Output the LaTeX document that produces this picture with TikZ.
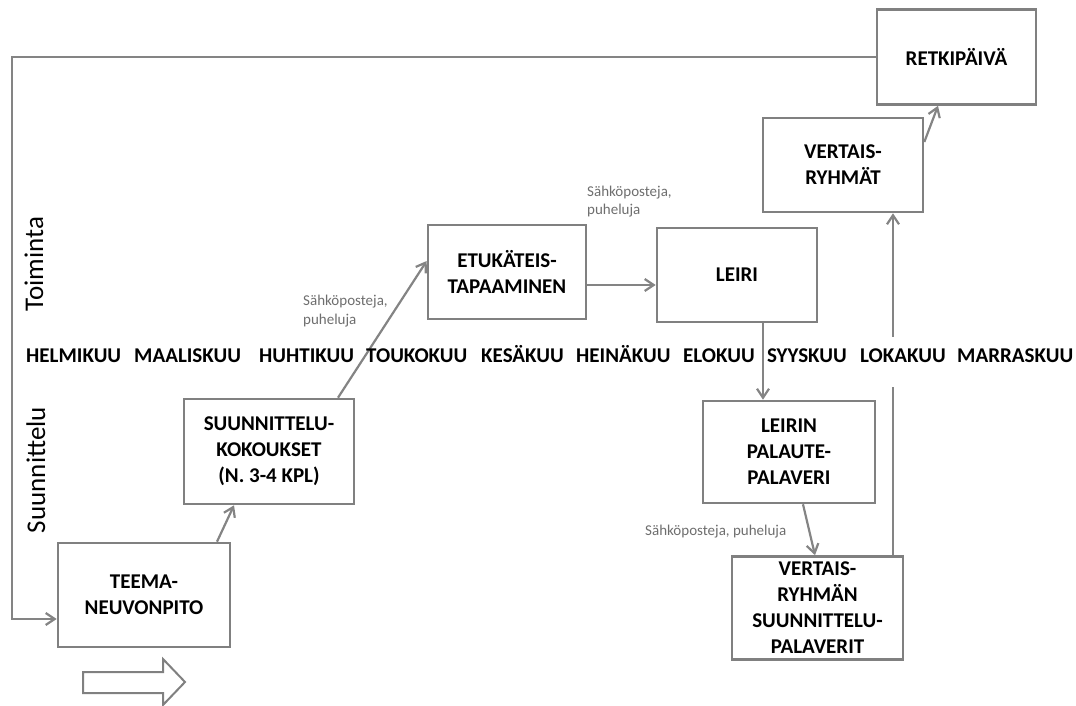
\documentclass[tikz,border=0pt]{standalone}
\usepackage{fontspec}
\setmainfont{Carlito}
\usetikzlibrary{arrows.meta}
\definecolor{bd}{RGB}{128,128,128}
\definecolor{ln}{RGB}{132,132,132}
\definecolor{lb}{RGB}{110,110,110}
\begin{document}
\begin{tikzpicture}[x=1pt,y=-1pt,
  box/.style={draw=bd, line width=2.6pt, fill=white, inner sep=0pt, align=center,
    font=\fontsize{21}{26}\selectfont\bfseries, text=black},
  conn/.style={draw=ln, line width=2.2pt, -{Straight Barb[length=9pt,width=12pt,line width=2.2pt]}},
  month/.style={anchor=base west, inner sep=0pt, font=\fontsize{21}{25}\selectfont\bfseries},
  lab/.style={anchor=west, inner sep=0pt, align=left, text=lb, font=\fontsize{15}{18.5}\selectfont},
  side/.style={rotate=90, anchor=base, inner sep=0pt, font=\fontsize{27}{30}\selectfont}]
\useasboundingbox (0,0) rectangle (1076,706);

% boxes
\node[box, minimum width=172pt, minimum height=104pt] (teema) at (144,595) {TEEMA-\\NEUVONPITO};
\node[box, minimum width=170pt, minimum height=105pt] (suun) at (269,451.5) {SUUNNITTELU-\\KOKOUKSET\\(N. 3-4 KPL)};
\node[box, minimum width=158pt, minimum height=94pt] (etu) at (507,272) {ETUKÄTEIS-\\TAPAAMINEN};
\node[box, minimum width=160pt, minimum height=94pt] (leiri) at (737,275) {LEIRI};
\node[box, minimum width=172pt, minimum height=102pt] (leirin) at (789,452) {LEIRIN\\PALAUTE-\\PALAVERI};
\node[box, minimum width=171pt, minimum height=103pt] (vrsuun) at (817.5,608) {VERTAIS-\\RYHMÄN\\SUUNNITTELU-\\PALAVERIT};
\node[box, minimum width=160pt, minimum height=94pt] (vrt) at (843,165) {VERTAIS-\\RYHMÄT};
\node[box, minimum width=159pt, minimum height=95pt] (retki) at (956.5,57) {RETKIPÄIVÄ};

% loop connector
\coordinate (lp2) at (12,619);
\draw[conn] (retki.west) -| (lp2) -- (lp2 -| teema.west);

% connectors
\draw[conn] ([xshift=73pt]teema.north) -- ([xshift=-35pt]suun.south);
\draw[conn] ([xshift=69pt]suun.north) -- ([yshift=11pt]etu.west);
\coordinate (e1) at ([yshift=-13pt]etu.east);
\draw[conn] (e1) -- (e1 -| leiri.west);
\coordinate (l1) at ([xshift=26pt]leiri.south);
\draw[conn] (l1) -- (l1 |- leirin.north);
\draw[conn] ([xshift=14pt]leirin.south) -- ([xshift=-2.5pt]vrsuun.north);
\coordinate (v1) at ([xshift=75.5pt]vrsuun.north);
\draw[conn] (v1) -- (v1 |- vrt.south);
\draw[conn] ([yshift=23pt]vrt.east) -- ([xshift=-18.5pt]retki.south);

% gap in the vertical line at the month row
\fill[white] (887,337) rectangle (899,387);

% months
\node[month] (m1) at (26,362) {HELMIKUU};
\node[month] (m2) at (134,362) {MAALISKUU};
\node[month] (m3) at (259,362) {HUHTIKUU};
\node[month] (m4) at (366,362) {TOUKOKUU};
\node[month] (m5) at (481,362) {KESÄKUU};
\node[month] (m6) at (576,362) {HEINÄKUU};
\node[month] (m7) at (683,362) {ELOKUU};
\node[month] (m8) at (767,362) {SYYSKUU};
\node[month] (m9) at (860,362) {LOKAKUU};
\node[month] (m10) at (957,362) {MARRASKUU};

% small labels
\node[lab] (lab1) at (303,311) {Sähköposteja,\\puheluja};
\node[lab] (lab2) at (587,201.5) {Sähköposteja,\\puheluja};
\node[lab] (lab3) at (645,532) {Sähköposteja, puheluja};

% side labels
\node[side] (toim) at (43,264) {Toiminta};
\node[side] (suunl) at (45,470) {Suunnittelu};

% hollow arrow
\draw[draw=bd, line width=2pt, line join=miter] (83,672) -- (163,672) -- (163,659) -- (185,682)
  -- (163,705) -- (163,693) -- (83,693) -- cycle;
\end{tikzpicture}
\end{document}
